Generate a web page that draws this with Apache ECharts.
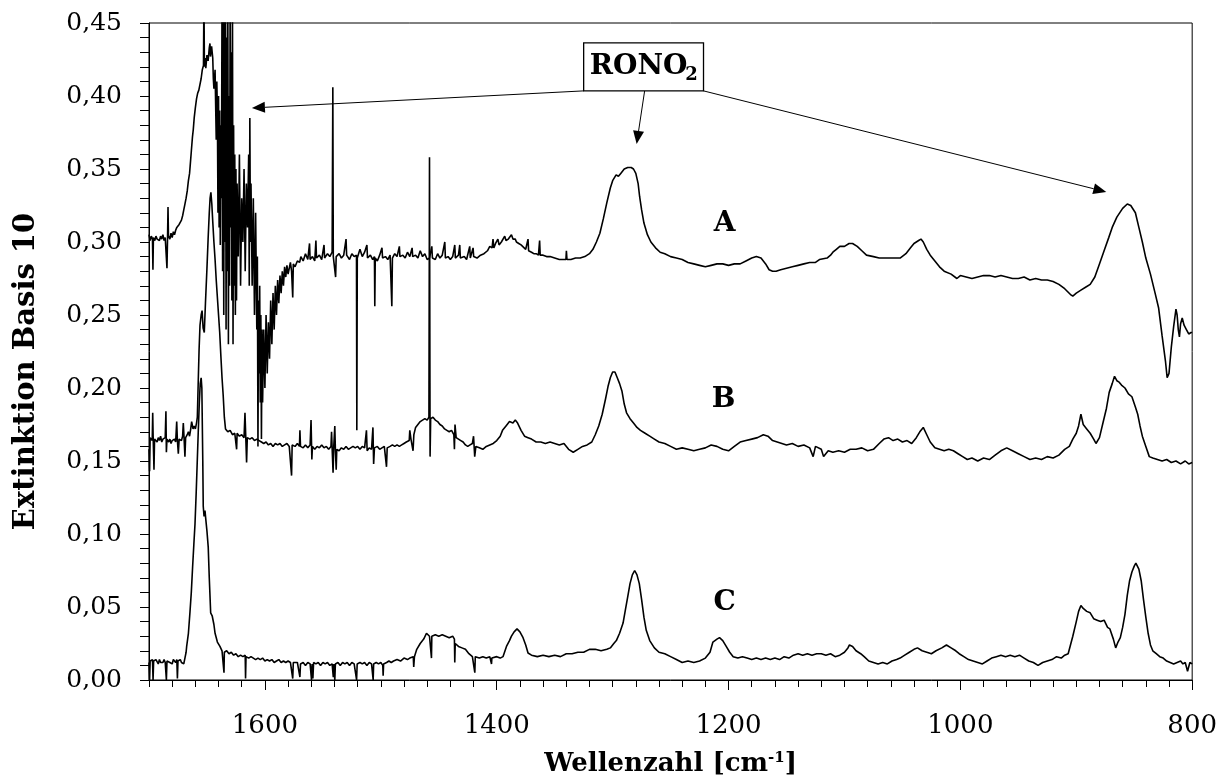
<!DOCTYPE html>
<html><head><meta charset="utf-8">
<script src="https://cdn.jsdelivr.net/npm/echarts@6/dist/echarts.min.js"></script>
<style>html,body{margin:0;padding:0;background:#fff}#main{width:1220px;height:781px}</style>
</head><body><div id="main"></div>
<script>
// ---- tick labels / categories ----
const xMajorTicks = [1600, 1400, 1200, 1000, 800];
const traceNames = ['A', 'B', 'C'];
const xTitle = 'Wellenzahl [cm';
const xTitleSup = '-1';
const yTitle = 'Extinktion Basis 10';
const boxLabel = 'RONO';
const boxLabelSub = '2';

// ---- series values: [wavenumber cm^-1, absorbance] ----
const seriesA = [
[1700,0.305],[1699,0.301],[1698,0.304],[1697,0.302],[1696.6,0.281],[1696.2,0.303],[1695,0.301],[1694,0.304],[1693,0.302],[1692,0.303],[1691,0.301],[1690,0.304],[1689,0.302],[1688,0.305],[1687,0.301],[1686,0.303],[1685,0.302],[1684.5,0.282],[1684,0.303],[1683.6,0.324],[1683.2,0.304],[1682,0.302],[1681,0.306],[1680,0.303],[1679,0.307],[1678,0.305],[1677,0.308],[1676,0.310],[1675,0.309],[1674,0.312],[1673,0.311],[1672,0.315],[1671,0.318],[1670,0.322],[1669,0.326],[1668,0.330],[1667,0.335],[1666,0.342],[1665,0.347],[1664.5,0.352],[1663.5,0.362],[1662.5,0.372],[1661.8,0.377],[1661,0.385],[1660,0.392],[1659,0.398],[1658,0.402],[1657,0.404],[1656,0.405],[1655,0.412],[1654,0.418],[1653,0.421],[1652.6,0.47],[1652.2,0.420],[1651.5,0.426],[1651,0.419],[1650,0.428],[1649,0.424],[1648,0.433],[1647.4,0.436],[1647,0.427],[1646,0.434],[1645,0.426],[1644.5,0.412],[1644,0.405],[1643,0.418],[1642,0.37],[1641.5,0.41],[1641,0.39],[1640.5,0.32],[1640,0.40],[1639.5,0.31],[1639,0.39],[1638.5,0.298],[1638,0.38],[1637.5,0.33],[1637,0.47],[1636.5,0.28],[1636,0.47],[1635.5,0.25],[1635,0.46],[1634.5,0.30],[1634,0.47],[1633.5,0.24],[1633,0.44],[1632.5,0.28],[1632,0.47],[1631.5,0.23],[1631,0.40],[1630.5,0.27],[1630,0.47],[1629.5,0.31],[1629,0.43],[1628.5,0.26],[1628,0.47],[1627.5,0.23],[1627,0.38],[1626.5,0.27],[1626,0.36],[1625.5,0.25],[1625,0.35],[1624.5,0.26],[1624,0.34],[1623,0.29],[1622,0.36],[1621,0.27],[1620,0.33],[1619,0.30],[1618,0.35],[1617,0.28],[1616,0.34],[1615,0.31],[1614,0.36],[1613.5,0.27],[1613,0.385],[1612.5,0.30],[1612,0.34],[1611,0.27],[1610,0.33],[1609,0.25],[1608,0.32],[1607,0.24],[1606.5,0.29],[1606,0.16],[1605.5,0.26],[1605,0.21],[1604.5,0.27],[1604,0.19],[1603.5,0.25],[1603,0.165],[1602.5,0.24],[1602,0.19],[1601,0.24],[1600,0.20],[1599,0.25],[1598,0.21],[1597,0.245],[1596,0.22],[1595,0.26],[1594,0.23],[1593,0.265],[1592,0.24],[1591,0.27],[1590,0.25],[1589,0.274],[1588,0.258],[1587,0.277],[1586,0.265],[1585,0.28],[1584,0.27],[1583,0.283],[1582,0.276],[1581,0.284],[1580,0.278],[1578,0.286],[1577,0.28],[1576,0.262],[1575.5,0.285],[1574,0.283],[1572,0.287],[1570,0.286],
[1569,0.290],[1567,0.287],[1565,0.292],[1563,0.288],[1561.5,0.299],[1561,0.288],[1559,0.290],[1557,0.287],[1556,0.301],[1555.5,0.289],[1553,0.291],[1551,0.288],[1549,0.298],[1548.5,0.289],[1546,0.292],[1544,0.290],[1542,0.293],[1541.4,0.406],[1541,0.290],[1540,0.289],[1539,0.276],[1538.5,0.290],[1536,0.292],[1534,0.289],[1532,0.291],[1530,0.302],[1529.5,0.291],[1527,0.288],[1525,0.292],[1523,0.290],[1521,0.291],[1520.7,0.171],[1520.3,0.289],[1518,0.295],[1516,0.290],[1514,0.293],[1512,0.298],[1511.5,0.289],[1509,0.291],[1507,0.288],[1505.5,0.290],[1505.2,0.256],[1504.8,0.289],[1503,0.287],[1501,0.291],[1499,0.296],[1498.5,0.289],[1496,0.290],[1494,0.288],[1492,0.291],[1490.5,0.256],[1490,0.289],[1488,0.292],[1486,0.290],[1484,0.297],[1483.5,0.290],[1481,0.291],[1479,0.289],[1477,0.293],[1475,0.290],[1473,0.296],[1472.5,0.290],[1470,0.291],[1468,0.289],[1466,0.294],[1464,0.290],[1462,0.292],[1460,0.288],[1458,0.289],[1456,0.297],[1455.5,0.289],[1453,0.288],[1451,0.292],[1449,0.289],[1447,0.291],[1444.8,0.300],[1444.3,0.289],[1442,0.290],[1440,0.288],[1438,0.290],[1436.2,0.298],[1435.7,0.289],[1433,0.291],[1431.9,0.298],[1431.4,0.289],[1428,0.290],[1426,0.288],[1423.3,0.297],[1422.8,0.289],[1420.4,0.296],[1419.9,0.290],[1417,0.289],[1414,0.291],[1411,0.292],[1408,0.294],[1406,0.297],[1404,0.296],[1403.2,0.302],[1402.5,0.296],[1401,0.299],[1399,0.302],[1398,0.298],[1396,0.300],[1394.5,0.299],[1393.1,0.304],[1392,0.301],[1390,0.302],[1387.3,0.305],[1386,0.302],[1384,0.302],[1383,0.300],[1381,0.299],[1379,0.298],[1377.3,0.297],[1375,0.295],[1373.5,0.294],[1373,0.302],[1372.5,0.294],[1370,0.293],[1368,0.292],[1366,0.292],[1364,0.291],[1363,0.301],[1362.5,0.291],[1360,0.291],[1357,0.290],[1354,0.290],[1350,0.289],[1346,0.288],[1343,0.288],[1340.3,0.288],[1339.9,0.294],[1339.4,0.288],[1336,0.288],[1332,0.289],[1328,0.289],[1324,0.290],[1320,0.292],[1317,0.295],[1314,0.300],[1311,0.306],[1308,0.316],[1305,0.327],[1302,0.337],[1300,0.342],[1297,0.346],[1295,0.345],[1293,0.347],[1290,0.350],[1287,0.351],[1284,0.351],[1282,0.350],[1280,0.347],[1278,0.340],[1276.7,0.331],[1275,0.322],[1273,0.313],[1270,0.305],[1267,0.300],[1263,0.296],[1259,0.293],[1255,0.292],[1250,0.290],[1245,0.289],[1240,0.288],[1235,0.286],[1230,0.285],[1225,0.284],[1220,0.283],[1215,0.284],[1210,0.285],[1205,0.285],[1200,0.284],[1195,0.285],[1190,0.285],[1185,0.287],[1180,0.289],[1176,0.290],[1172,0.289],[1168,0.285],[1165,0.281],[1162,0.280],[1159,0.280],[1155,0.281],[1150,0.282],[1145,0.283],[1140,0.284],[1135,0.285],[1130,0.286],[1125,0.286],[1121.6,0.288],[1115,0.289],[1112,0.291],[1110,0.293],[1107,0.295],[1104,0.297],[1100,0.297],[1096,0.299],[1093,0.299],[1089,0.297],[1085,0.294],[1081,0.291],[1075,0.290],[1070,0.289],[1067,0.289],[1060,0.289],[1052,0.289],[1047,0.292],[1043,0.296],[1040,0.299],[1036,0.301],[1034,0.302],[1032,0.300],[1029,0.295],[1026,0.291],[1022,0.287],[1018,0.283],[1014,0.280],[1008,0.278],[1003,0.275],[1000,0.277],[995,0.276],[990,0.275],[985,0.276],[980,0.277],[975,0.277],[970,0.276],[965,0.277],[960,0.276],[955,0.275],[950,0.275],[945,0.276],[940,0.274],[935,0.275],[930,0.274],[925,0.274],[920,0.273],[915,0.271],[910,0.268],[905,0.264],[903,0.263],[900,0.265],[896,0.267],[892,0.269],[888,0.271],[884,0.276],[880,0.285],[876,0.294],[872,0.303],[869,0.310],[865,0.317],[860,0.323],[856,0.326],[853,0.325],[849,0.320],[846,0.310],[843,0.300],[840,0.289],[836,0.278],[832,0.265],[829,0.255],[826,0.236],[823,0.218],[821.6,0.207],[820,0.210],[818,0.228],[816,0.242],[814,0.254],[813,0.250],[812,0.240],[811,0.235],[810,0.244],[808.6,0.248],[807,0.243],[805,0.240],[803,0.237],[801,0.238],[800,0.238]
];

const seriesB = [
[1700,0.158],[1699.5,0.143],[1699,0.166],[1698,0.167],[1697.2,0.164],[1696.8,0.183],[1696.4,0.166],[1695.7,0.144],[1695.2,0.165],[1694,0.166],[1693,0.163],[1692,0.166],[1691,0.164],[1690,0.167],[1689,0.163],[1688,0.165],[1687,0.164],[1686,0.166],[1685.4,0.184],[1685,0.156],[1684.5,0.165],[1683,0.163],[1682,0.165],[1681,0.162],[1680,0.164],[1679,0.163],[1678,0.165],[1677,0.163],[1676.1,0.177],[1675.5,0.164],[1674.7,0.155],[1674,0.165],[1673,0.166],[1672,0.164],[1671,0.167],[1670.4,0.176],[1669.7,0.165],[1669,0.153],[1668.4,0.166],[1667,0.168],[1666,0.170],[1665,0.167],[1664,0.172],[1663.2,0.177],[1662,0.172],[1661,0.174],[1660,0.172],[1659,0.176],[1658.3,0.180],[1657.5,0.205],[1656.8,0.226],[1656,0.243],[1655,0.250],[1654.2,0.253],[1653.3,0.241],[1652.3,0.238],[1651.3,0.258],[1650,0.282],[1649,0.302],[1648,0.320],[1647.3,0.330],[1646.6,0.334],[1645.8,0.326],[1645,0.314],[1644,0.300],[1643,0.288],[1642,0.274],[1641,0.262],[1640,0.250],[1639,0.238],[1638,0.222],[1637,0.207],[1636,0.195],[1635,0.180],[1634,0.172],[1632,0.170],[1630,0.171],[1628,0.168],[1626,0.169],[1624.4,0.158],[1624,0.169],[1622,0.167],[1620,0.168],[1618,0.166],[1617.2,0.183],[1616.5,0.166],[1615.8,0.149],[1615.2,0.166],[1613,0.165],[1611,0.166],[1609,0.164],[1607,0.165],[1605,0.164],[1603,0.163],[1601,0.162],[1599,0.163],[1597,0.161],[1595,0.162],[1593,0.160],[1591,0.162],[1589,0.161],[1587,0.162],[1585,0.160],[1583,0.161],[1581,0.162],[1579,0.160],[1577.3,0.161],[1577,0.140],[1576.5,0.161],[1574,0.160],[1572,0.162],[1570.2,0.160],[1569.8,0.171],[1569.3,0.160],[1567,0.159],[1565,0.161],[1563,0.159],[1561,0.161],[1560.2,0.178],[1559.5,0.151],[1559,0.160],[1557,0.158],[1555,0.160],[1553,0.159],[1551,0.161],[1549,0.159],[1547,0.160],[1545,0.158],[1543,0.160],[1542.5,0.170],[1542,0.159],[1541.2,0.142],[1540.6,0.160],[1539.7,0.174],[1539.2,0.158],[1538.5,0.144],[1538,0.158],[1536,0.157],[1534,0.159],[1532,0.158],[1530,0.160],[1528,0.158],[1526,0.159],[1524,0.160],[1522,0.159],[1520,0.160],[1518,0.158],[1516,0.160],[1514,0.159],[1512.4,0.171],[1511.8,0.157],[1510,0.159],[1508,0.158],[1506.8,0.173],[1506.2,0.148],[1505.5,0.159],[1503,0.160],[1501,0.158],[1499,0.159],[1497,0.160],[1495.1,0.146],[1494.5,0.159],[1492,0.160],[1490,0.161],[1488,0.160],[1486,0.161],[1484,0.160],[1482,0.161],[1480,0.162],[1478,0.163],[1475.5,0.164],[1475,0.171],[1474,0.165],[1472.2,0.157],[1471.5,0.168],[1470,0.173],[1468,0.175],[1466,0.177],[1464,0.178],[1462,0.179],[1460,0.178],[1458.5,0.180],[1458,0.358],[1457.5,0.153],[1457,0.179],[1455,0.180],[1453,0.178],[1451,0.177],[1449,0.175],[1447,0.174],[1445,0.172],[1443,0.171],[1441,0.170],[1439,0.171],[1437,0.168],[1436.5,0.158],[1436,0.175],[1435,0.166],[1433,0.165],[1431,0.164],[1429,0.163],[1427,0.161],[1425,0.160],[1423,0.161],[1421,0.162],[1420,0.167],[1419,0.153],[1418,0.160],[1415,0.159],[1412,0.158],[1409,0.160],[1406,0.161],[1403,0.162],[1400,0.164],[1397,0.167],[1395,0.171],[1392,0.174],[1389,0.177],[1386,0.176],[1384,0.178],[1382,0.176],[1379,0.171],[1376,0.167],[1373,0.166],[1370,0.165],[1366,0.163],[1362,0.163],[1358,0.162],[1354,0.163],[1350,0.162],[1346,0.161],[1342,0.162],[1338,0.158],[1334,0.156],[1330,0.158],[1326,0.160],[1322,0.161],[1318,0.163],[1315,0.168],[1312,0.174],[1309,0.182],[1306,0.193],[1304,0.201],[1302,0.207],[1300,0.211],[1298,0.211],[1296,0.207],[1294,0.203],[1292,0.198],[1290,0.189],[1288,0.183],[1285,0.179],[1282,0.176],[1279,0.173],[1276,0.171],[1272,0.169],[1268,0.167],[1264,0.165],[1260,0.163],[1255,0.162],[1250,0.160],[1245,0.158],[1240,0.159],[1235,0.158],[1230,0.157],[1225,0.158],[1220,0.159],[1215,0.161],[1210,0.160],[1205,0.158],[1200,0.157],[1195,0.160],[1190,0.163],[1185,0.164],[1180,0.165],[1175,0.166],[1170,0.168],[1166,0.167],[1162,0.164],[1158,0.163],[1154,0.162],[1150,0.161],[1145,0.162],[1140,0.160],[1135,0.161],[1130,0.159],[1127,0.153],[1125,0.160],[1120,0.158],[1118,0.153],[1114,0.157],[1110,0.156],[1105,0.157],[1100,0.156],[1095,0.158],[1090,0.158],[1085,0.159],[1080,0.157],[1075,0.158],[1070,0.162],[1066,0.165],[1062,0.166],[1058,0.164],[1054,0.165],[1050,0.163],[1046,0.164],[1042,0.162],[1038,0.166],[1035,0.170],[1032,0.173],[1029,0.168],[1026,0.163],[1022,0.159],[1018,0.158],[1014,0.157],[1010,0.158],[1006,0.157],[1002,0.155],[998,0.153],[994,0.151],[990,0.152],[985,0.150],[980,0.152],[975,0.151],[970,0.154],[965,0.157],[960,0.159],[955,0.157],[950,0.155],[945,0.153],[940,0.151],[935,0.152],[930,0.151],[925,0.153],[920,0.152],[915,0.154],[910,0.158],[906,0.160],[903,0.165],[900,0.169],[898,0.174],[896,0.182],[894,0.175],[891,0.172],[888,0.169],[885,0.165],[883,0.162],[880,0.166],[877,0.176],[874,0.186],[871.6,0.197],[869,0.203],[867,0.208],[865,0.205],[863,0.204],[861,0.202],[858,0.200],[855,0.196],[852,0.194],[849,0.187],[847,0.182],[845,0.174],[843,0.167],[840,0.160],[837,0.153],[834,0.152],[830,0.151],[826,0.150],[822,0.151],[818,0.149],[814,0.150],[810,0.148],[806,0.150],[803,0.148],[800,0.149]
];

const seriesC = [
[1700,0.012],[1699.5,0.000],[1699,0.013],[1698,0.012],[1697,0.014],[1696.5,0.000],[1696,0.013],[1695,0.012],[1694,0.014],[1693,0.013],[1692,0.011],[1691,0.014],[1690,0.012],[1689,0.013],[1688,0.012],[1687,0.014],[1686,0.012],[1685,0.000],[1684.5,0.013],[1683,0.014],[1682,0.012],[1681,0.013],[1680,0.011],[1679,0.014],[1678,0.013],[1677,0.012],[1676,0.014],[1675.5,0.001],[1675,0.013],[1674,0.012],[1673,0.014],[1672,0.012],[1671,0.013],[1670,0.011],[1669,0.015],[1668,0.019],[1667.5,0.023],[1666,0.032],[1664.7,0.046],[1663.5,0.060],[1662.4,0.077],[1661.3,0.093],[1660.3,0.107],[1659.3,0.128],[1658.4,0.149],[1657.5,0.170],[1656.6,0.190],[1655.8,0.203],[1655,0.207],[1654.4,0.200],[1653.6,0.150],[1653.2,0.119],[1652.5,0.112],[1651.7,0.116],[1651,0.110],[1650,0.102],[1648.9,0.091],[1648,0.070],[1646.8,0.046],[1645.5,0.044],[1644,0.038],[1643,0.032],[1641,0.026],[1638.8,0.023],[1637,0.020],[1636,0.021],[1635.3,0.005],[1635,0.019],[1633,0.020],[1631,0.018],[1629,0.019],[1627,0.017],[1625,0.018],[1623,0.016],[1621,0.017],[1619,0.016],[1617,0.017],[1616.7,0.001],[1616.3,0.016],[1614,0.015],[1612,0.016],[1610,0.015],[1608,0.014],[1606,0.015],[1604,0.014],[1602,0.015],[1600,0.013],[1598,0.014],[1596,0.013],[1594,0.014],[1592,0.012],[1590,0.013],[1588,0.014],[1586,0.012],[1584,0.013],[1582,0.012],[1580,0.013],[1578,0.012],[1576.5,0.012],[1576,0.001],[1575.5,0.012],[1574,0.011],[1572,0.012],[1570.3,0.011],[1569.8,0.002],[1569.3,0.011],[1567,0.012],[1565,0.010],[1563,0.012],[1561,0.011],[1559.8,0.000],[1559.3,0.011],[1558.6,0.001],[1558,0.012],[1556,0.011],[1554,0.012],[1552,0.010],[1550,0.012],[1548,0.011],[1546,0.012],[1544,0.010],[1542,0.011],[1541,0.002],[1540.5,0.011],[1539.7,0.000],[1539.2,0.011],[1537,0.012],[1535,0.010],[1533,0.012],[1531,0.011],[1529,0.012],[1527,0.010],[1525,0.012],[1523,0.011],[1521.3,0.012],[1520.9,0.000],[1520.4,0.011],[1518,0.012],[1516,0.011],[1514,0.012],[1512,0.010],[1510,0.012],[1508,0.011],[1506.9,0.012],[1506.6,0.000],[1506.2,0.011],[1504,0.012],[1502,0.011],[1500,0.012],[1498.3,0.010],[1498,0.003],[1497.6,0.011],[1495,0.012],[1493,0.013],[1491,0.012],[1489,0.013],[1486,0.014],[1483,0.013],[1480,0.015],[1477,0.014],[1475,0.015],[1472,0.016],[1471.6,0.009],[1471,0.016],[1469,0.021],[1466,0.025],[1463,0.028],[1460.6,0.032],[1458,0.030],[1456.5,0.031],[1456.3,0.015],[1456,0.030],[1453,0.031],[1450,0.030],[1447,0.031],[1444,0.030],[1441,0.029],[1438,0.030],[1436.5,0.028],[1436.2,0.012],[1435.8,0.025],[1433,0.023],[1430,0.022],[1427,0.021],[1424,0.018],[1421,0.016],[1419.3,0.016],[1418.9,0.005],[1418.5,0.016],[1415,0.015],[1412,0.016],[1409,0.015],[1406,0.016],[1404.8,0.015],[1404.5,0.011],[1404.2,0.015],[1400,0.016],[1397,0.015],[1394.6,0.016],[1391.6,0.023],[1389,0.027],[1387.3,0.030],[1385,0.033],[1382.5,0.035],[1380,0.033],[1377.3,0.029],[1375,0.024],[1373,0.0185],[1370,0.017],[1365,0.016],[1360,0.017],[1355,0.016],[1350,0.017],[1345,0.016],[1340,0.018],[1335,0.018],[1330,0.019],[1325,0.019],[1320,0.021],[1315,0.021],[1310,0.020],[1305,0.021],[1302,0.022],[1299,0.025],[1296.8,0.027],[1294,0.032],[1291,0.039],[1289,0.048],[1287,0.057],[1285,0.066],[1283,0.072],[1281,0.075],[1279,0.072],[1277,0.066],[1275,0.055],[1273,0.043],[1271,0.034],[1268,0.027],[1264,0.022],[1260,0.019],[1255,0.018],[1250,0.016],[1245,0.014],[1240,0.012],[1235,0.013],[1230,0.012],[1225,0.013],[1220,0.015],[1216,0.019],[1213.5,0.026],[1210,0.028],[1207.8,0.029],[1205,0.027],[1202,0.023],[1199,0.019],[1196,0.016],[1192,0.015],[1188,0.016],[1184,0.015],[1180,0.014],[1176,0.015],[1172,0.014],[1168,0.015],[1164,0.014],[1160,0.015],[1156,0.014],[1152,0.016],[1148,0.015],[1144,0.017],[1140,0.018],[1136,0.017],[1132,0.018],[1128,0.017],[1124,0.018],[1120,0.018],[1116,0.017],[1112,0.018],[1108,0.016],[1104,0.017],[1100,0.019],[1097,0.022],[1095.7,0.024],[1093,0.023],[1090,0.020],[1086,0.018],[1083,0.016],[1079,0.013],[1075,0.012],[1071,0.011],[1067,0.012],[1063,0.011],[1059,0.013],[1055,0.014],[1052,0.015],[1048,0.017],[1044,0.019],[1040,0.021],[1037,0.022],[1033,0.020],[1029,0.019],[1025,0.018],[1021,0.020],[1016,0.022],[1012,0.024],[1008,0.022],[1004,0.020],[1001,0.018],[997,0.016],[993,0.014],[989,0.013],[985,0.012],[981,0.011],[977,0.013],[973,0.015],[969,0.016],[965,0.017],[961,0.016],[957,0.017],[953,0.016],[949,0.017],[945,0.015],[941,0.013],[937,0.012],[933,0.010],[929,0.012],[925,0.013],[921,0.014],[917,0.016],[913,0.015],[910,0.017],[907,0.018],[905,0.024],[903,0.030],[900,0.040],[898,0.047],[896,0.051],[894,0.049],[891,0.047],[888,0.046],[885,0.042],[882,0.041],[879,0.040],[876,0.041],[873,0.036],[871,0.035],[868,0.028],[866,0.022],[864,0.026],[862,0.029],[860,0.036],[858,0.045],[856,0.058],[854,0.068],[852,0.074],[850,0.078],[848.6,0.080],[846,0.076],[844,0.068],[842,0.055],[840,0.043],[838,0.032],[836,0.024],[834,0.020],[831,0.018],[828,0.016],[825,0.015],[822,0.013],[819,0.012],[816,0.011],[813,0.012],[810,0.013],[808,0.011],[806,0.012],[804,0.006],[802,0.012],[800,0.011]
];

// ---- annotation anchors in data coordinates [wavenumber, absorbance] ----
const boxCorners = [[1325, 0.4364], [1221.6, 0.4035]];
const arrowStarts = [[1325, 0.4035], [1272.4, 0.4035], [1221.6, 0.4035]];
const arrowTips = [[1611.2, 0.3918], [1279.3, 0.3672], [874.1, 0.3343]];
const traceLabelPos = [[1203.4, 0.3124], [1204.3, 0.1918], [1203.4, 0.0527]];

const FONT = '"DejaVu Serif"';
const chart = echarts.init(document.getElementById('main'), null, {renderer: 'canvas'});

const lineSeries = (name, data) => ({
  name, type: 'line', data, xAxisIndex: 0, yAxisIndex: 0,
  showSymbol: false, symbol: 'none', clip: true, animation: false,
  lineStyle: {color: '#000', width: 1.6}
});

chart.setOption({
  animation: false,
  backgroundColor: '#fff',
  grid: {left: 149, right: 27, top: 23, bottom: 101, show: true, borderColor: '#000', borderWidth: 1, backgroundColor: 'transparent'},
  xAxis: [
    {type: 'value', min: 800, max: 1700, inverse: true, position: 'bottom',
     axisLine: {show: true, lineStyle: {color: '#000', width: 1}},
     axisTick: {show: true, customValues: xMajorTicks, length: 10, lineStyle: {color: '#000'}},
     axisLabel: {customValues: xMajorTicks, margin: 33, color: '#000', fontFamily: FONT, fontSize: 26,
       formatter: v => String(v)},
     splitLine: {show: false}},
    {type: 'value', min: 800, max: 1700, interval: 20, inverse: true, position: 'bottom',
     axisLine: {show: false},
     axisTick: {show: true, length: 7, lineStyle: {color: '#000'}},
     axisLabel: {show: false}, splitLine: {show: false}}
  ],
  yAxis: {type: 'value', min: 0, max: 0.45, interval: 0.05,
    axisLine: {show: true, lineStyle: {color: '#000', width: 1}},
    axisTick: {show: true, length: 9, lineStyle: {color: '#000'}},
    minorTick: {show: true, splitNumber: 5, length: 9, lineStyle: {color: '#000'}},
    axisLabel: {margin: 27, color: '#000', fontFamily: FONT, fontSize: 25,
      formatter: v => v.toFixed(2).replace('.', ',')},
    splitLine: {show: false}},
  series: [lineSeries(traceNames[0], seriesA), lineSeries(traceNames[1], seriesB), lineSeries(traceNames[2], seriesC)]
});

// ---- annotations placed through the axes' own conversion ----
const toPx = p => chart.convertToPixel({xAxisIndex: 0, yAxisIndex: 0}, p);
const els = [];
const b0 = toPx(boxCorners[0]), b1 = toPx(boxCorners[1]);
arrowStarts.forEach((s, i) => {
  const p0 = toPx(s), p1 = toPx(arrowTips[i]);
  const dx = p1[0] - p0[0], dy = p1[1] - p0[1], L = Math.hypot(dx, dy);
  const ux = dx / L, uy = dy / L, hl = 13, hw = 5.5;
  const bx = p1[0] - ux * hl, by = p1[1] - uy * hl;
  els.push({type: 'line', silent: true, shape: {x1: p0[0], y1: p0[1], x2: bx, y2: by}, style: {stroke: '#000', lineWidth: 1}});
  els.push({type: 'polygon', silent: true, shape: {points: [[p1[0], p1[1]], [bx - uy * hw, by + ux * hw], [bx + uy * hw, by - ux * hw]]}, style: {fill: '#000'}});
});
els.push({type: 'rect', silent: true, shape: {x: b0[0], y: b0[1], width: b1[0] - b0[0], height: b1[1] - b0[1]}, style: {fill: '#fff', stroke: '#000', lineWidth: 1.3}});
const bcx = (b0[0] + b1[0]) / 2, bcy = (b0[1] + b1[1]) / 2;
els.push({type: 'text', silent: true, x: bcx - 5, y: bcy, style: {text: boxLabel, font: 'bold 28px ' + FONT, fill: '#000', align: 'center', verticalAlign: 'middle'}});
els.push({type: 'text', silent: true, x: bcx + 48, y: bcy + 8, style: {text: boxLabelSub, font: 'bold 18px ' + FONT, fill: '#000', align: 'center', verticalAlign: 'middle'}});
traceLabelPos.forEach((p, i) => {
  const q = toPx(p);
  els.push({type: 'text', silent: true, x: q[0], y: q[1], style: {text: traceNames[i], font: 'bold 28px ' + FONT, fill: '#000', align: 'center', verticalAlign: 'middle'}});
});
const plotL = toPx([1700, 0])[0], plotR = toPx([800, 0])[0];
const plotT = toPx([1700, 0.45])[1], plotB = toPx([1700, 0])[1];
els.push({type: 'text', silent: true, x: (plotL + plotR) / 2, y: plotB + 84, style: {
  text: '{t|' + xTitle + '}{s|' + xTitleSup + '}{t|]}', align: 'center', verticalAlign: 'middle',
  rich: {t: {fontFamily: FONT, fontWeight: 'bold', fontSize: 26, fill: '#000'},
         s: {fontFamily: FONT, fontWeight: 'bold', fontSize: 15, fill: '#000', verticalAlign: 'top'}}}});
els.push({type: 'text', silent: true, x: 26, y: (plotT + plotB) / 2 + 20, rotation: Math.PI / 2, style: {
  text: yTitle, font: 'bold 29px ' + FONT, fill: '#000', align: 'center', verticalAlign: 'middle'}});
chart.setOption({graphic: {elements: els}});
</script>
</body></html>
